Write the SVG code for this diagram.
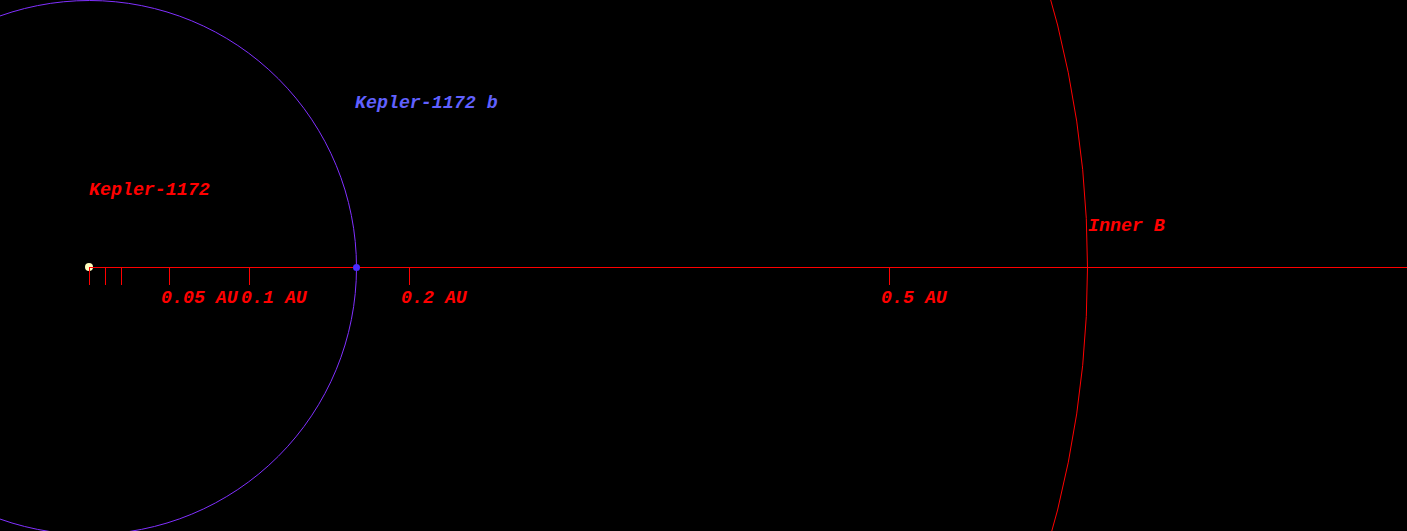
<svg xmlns="http://www.w3.org/2000/svg" width="1407" height="531" viewBox="0 0 1407 531">
<style>
.lbl{font-family:"Liberation Mono","Courier New",monospace;font-weight:bold;font-style:italic;font-size:18.3px}
.red{fill:#ff0000}
.tick{stroke:#ff0000;stroke-width:1}
</style>
<rect x="0" y="0" width="1407" height="531" fill="#000000"/>
<g id="orbits">
<circle id="orbit-b" cx="89.5" cy="267.5" r="267" fill="none" stroke="#8030ff" stroke-width="1"/>
<circle id="orbit-innerB" cx="89.5" cy="267.5" r="998" fill="none" stroke="#ff0000" stroke-width="1"/>
</g>
<g id="star">
<circle cx="89" cy="267" r="4" fill="#ffffc0"/>
<text class="lbl red" x="89" y="195">Kepler-1172</text>
</g>
<g id="connectors">
<line class="tick" x1="89" y1="267.5" x2="1407" y2="267.5"/>
<line class="tick" x1="89.5" y1="267" x2="89.5" y2="285"/>
<line class="tick" x1="105.5" y1="267" x2="105.5" y2="285"/>
<line class="tick" x1="121.5" y1="267" x2="121.5" y2="285"/>
<line class="tick" x1="169.5" y1="267" x2="169.5" y2="285"/>
<line class="tick" x1="249.5" y1="267" x2="249.5" y2="285"/>
<line class="tick" x1="409.5" y1="267" x2="409.5" y2="285"/>
<line class="tick" x1="889.5" y1="267" x2="889.5" y2="285"/>
</g>
<g id="scale">
<text class="lbl red" x="161" y="303">0.05 AU</text>
<text class="lbl red" x="241" y="303">0.1 AU</text>
<text class="lbl red" x="401" y="303">0.2 AU</text>
<text class="lbl red" x="881" y="303">0.5 AU</text>
</g>
<g id="planet-b">
<circle cx="356.5" cy="267.5" r="3.5" fill="#4a2cff"/>
<text class="lbl" fill="#6060ff" x="355" y="108">Kepler-1172 b</text>
</g>
<g id="innerB">
<text class="lbl red" x="1088" y="231">Inner B</text>
</g>
</svg>
